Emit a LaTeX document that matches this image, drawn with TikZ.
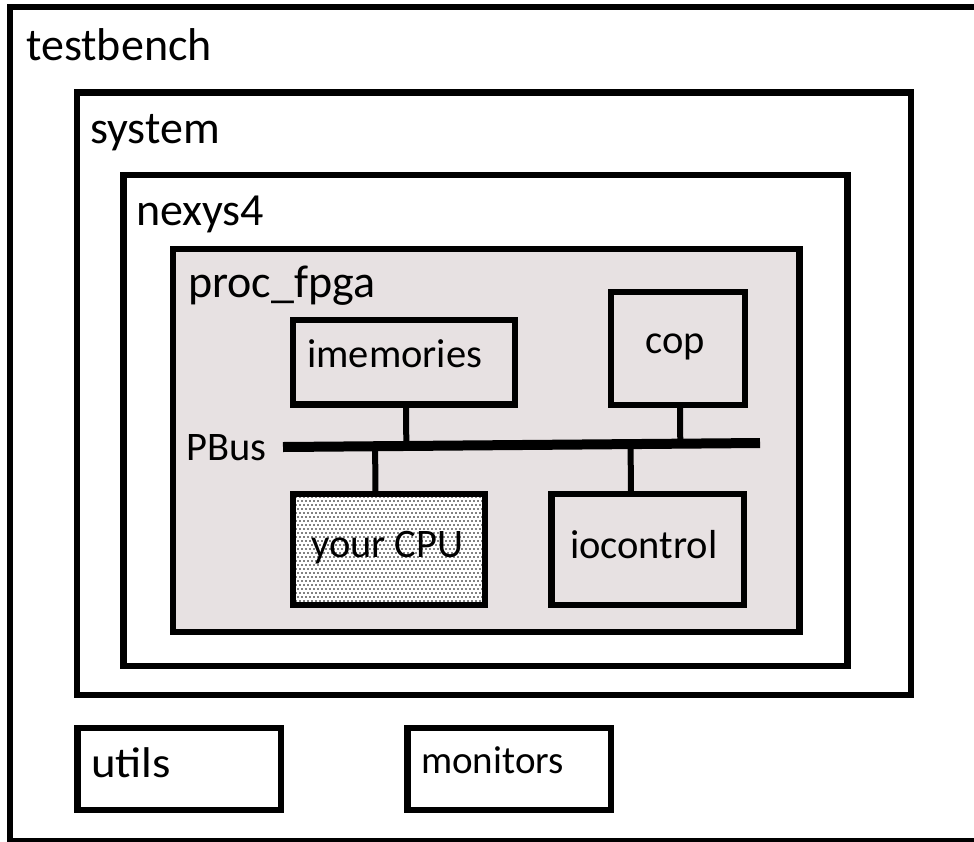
\documentclass[tikz,border=0pt]{standalone}
\usepackage{fontspec}
\setmainfont{Carlito}
\usetikzlibrary{calc,patterns}
\pgfdeclarepatternformonly{cpudots}{\pgfqpoint{-1pt}{-1pt}}{\pgfqpoint{4pt}{8pt}}{\pgfqpoint{4pt}{8pt}}{%
  \pgfpathcircle{\pgfqpoint{0pt}{0pt}}{0.9pt}%
  \pgfpathcircle{\pgfqpoint{2pt}{4pt}}{0.9pt}%
  \pgfusepath{fill}}
\definecolor{fpgafill}{RGB}{231,225,226}
\begin{document}
\begin{tikzpicture}[x=1pt,y=-1pt,
  box/.style={draw=black, line width=6.5pt, inner sep=0pt, outer sep=0pt},
  conn/.style={draw=black, line width=6pt},
  busline/.style={draw=black, line width=10pt},
  biglbl/.style={font=\fontsize{46}{55}\selectfont, inner sep=0pt, anchor=base west},
  lbl/.style={font=\fontsize{40.5}{48}\selectfont, inner sep=0pt, anchor=base west}]

\useasboundingbox (0,0) rectangle (974,841);
\fill[white] (0,0) rectangle (974,841);
\clip (0,0) rectangle (974,841);

% containers
\node[box, minimum width=975pt, minimum height=834pt] (testbench) at (497.5,424) {};
\node[box, minimum width=834pt, minimum height=602.5pt] (system) at (494,393.75) {};
\node[box, minimum width=724pt, minimum height=491pt] (nexys) at (485.5,420.5) {};
\node[box, fill=fpgafill, minimum width=626.5pt, minimum height=383pt] (proc) at (486.25,440.5) {};

% inner blocks
\node[box, fill=fpgafill, minimum width=222pt, minimum height=84.5pt] (imem) at (404,362.25) {};
\node[box, fill=fpgafill, minimum width=134pt, minimum height=113pt] (cop) at (678,348.5) {};
\node[box, preaction={fill=white}, pattern=cpudots, pattern color=black, minimum width=192pt, minimum height=111pt] (cpu) at (389,549.5) {};
\node[box, fill=fpgafill, minimum width=192.5pt, minimum height=111pt] (io) at (647.75,549.5) {};

\node[box, minimum width=203.5pt, minimum height=82pt] (utils) at (179.25,769) {};
\node[box, minimum width=203.5pt, minimum height=82pt] (monitors) at (509.25,769) {};

% bus
\coordinate (busL) at (283,447);
\coordinate (busR) at (760,443);
\draw[busline] (busL) -- (busR);

\coordinate (imemB) at ([xshift=2pt]imem.south);
\coordinate (copB) at ([xshift=2pt]cop.south);
\coordinate (cpuT) at ([xshift=-13.5pt]cpu.north);
\coordinate (ioT) at ([xshift=-16.75pt]io.north);
\draw[conn] (imemB) -- ($(busL)!(imemB)!(busR)$);
\draw[conn] (copB) -- ($(busL)!(copB)!(busR)$);
\draw[conn] (cpuT) -- ($(busL)!(cpuT)!(busR)$);
\draw[conn] (ioT) -- ($(busL)!(ioT)!(busR)$);

% labels
\node[biglbl] (tbl) at (26,60) {testbench};
\node[biglbl] (sysl) at (90,143) {system};
\node[biglbl] (nexl) at (136,225) {nexys4};
\node[biglbl] (procl) at (188,297) {proc\_fpga};
\node[lbl] (imeml) at (307,367) {imemories};
\node[lbl] (copl) at (645,353) {cop};
\node[lbl] (busl) at (186,460) {PBus};
\node[lbl] (cpul) at (311,557) {your CPU};
\node[lbl] (iol) at (570,558) {iocontrol};
\node[lbl, font=\fontsize{43}{50}\selectfont] (utilsl) at (91,777) {\scalebox{1.09}[1]{utils}};
\node[lbl, font=\fontsize{39}{47}\selectfont] (monl) at (421,773) {monitors};
\end{tikzpicture}
\end{document}
